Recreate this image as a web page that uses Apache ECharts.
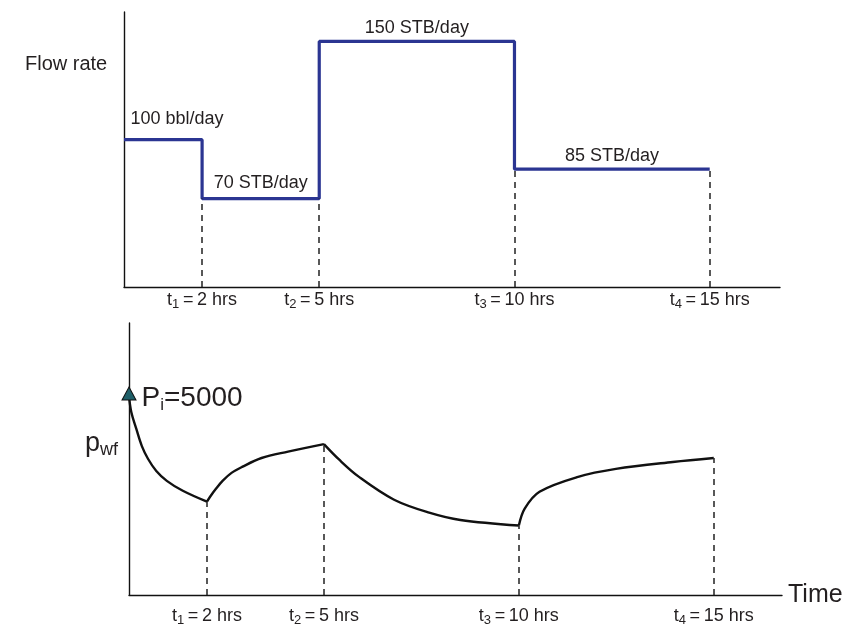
<!DOCTYPE html>
<html>
<head>
<meta charset="utf-8">
<script src="https://cdn.jsdelivr.net/npm/echarts@6/dist/echarts.min.js"></script>
<style>
html,body{margin:0;padding:0;background:#fff;}
#main{width:863px;height:627px;}
</style>
</head>
<body>
<div id="main"></div>
<script>
// ---- data ----
const tickTimes = [2, 5, 10, 15];           // hrs
const tickIndex = ['1', '2', '3', '4'];     // subscript of t
const rateTimes = [0, 2, 5, 10, 15];        // period boundaries, hrs
const rateValues = [100, 70, 150, 85];      // flow rate per period
const rateLabels = ['100 bbl/day', '70 STB/day', '150 STB/day', '85 STB/day'];
const initialPressure = 5000;               // Pi
// pwf curve, one array pair per flow period
const pwfTime1 = [0, 0.06, 0.19, 0.33, 0.49, 0.70, 0.97, 1.38, 2.0];
const pwfValue1 = [5000, 4920, 4835, 4750, 4685, 4625, 4575, 4525, 4470];
const pwfTime2 = [2.0, 2.08, 2.23, 2.4, 2.63, 2.9, 3.4, 4.08, 5.0];
const pwfValue2 = [4470, 4495, 4535, 4575, 4615, 4645, 4690, 4722, 4760];
const pwfTime3 = [5.0, 5.4, 5.9, 6.8, 7.7, 8.5, 10];
const pwfValue3 = [4760, 4680, 4595, 4480, 4415, 4378, 4350];
const pwfTime4 = [10, 10.15, 10.53, 11.52, 12.49, 13.95, 15];
const pwfValue4 = [4350, 4435, 4520, 4595, 4635, 4670, 4690];
const pwfAtTicks = [4470, 4760, 4350, 4690];

// ---- build ----
const FONT = '"Liberation Sans", Arial, Helvetica, sans-serif';
const TXT = '#231f20';
const zip = (a, b) => a.map((v, i) => [v, b[i]]);

const stepData = [];
rateValues.forEach((v, i) => {
  stepData.push([rateTimes[i], v]);
  stepData.push([rateTimes[i + 1], v]);
});
const rateLabelData = rateValues.map((v, i) => ({
  value: [(rateTimes[i] + rateTimes[i + 1]) / 2, v],
  name: rateLabels[i]
}));
rateLabelData[0].label = { offset: [14, -8] };
rateLabelData[1].label = { offset: [0, -3] };

// dashed verticals: up to the lower adjacent rate
const topDash = tickTimes.map((t, i) => {
  const lo = i + 1 < rateValues.length ? Math.min(rateValues[i], rateValues[i + 1]) : rateValues[i];
  return [{ coord: [t, 25] }, { coord: [t, lo] }];
});
const botDash = tickTimes.map((t, i) => [{ coord: [t, 4000] }, { coord: [t, pwfAtTicks[i]] }]);

const subRich = {
  t: { fontSize: 18, lineHeight: 22, color: TXT, fontFamily: FONT },
  s: { fontSize: 13, lineHeight: 12, verticalAlign: 'bottom', color: TXT, fontFamily: FONT },
  e: { fontSize: 18, lineHeight: 22, color: TXT, fontFamily: FONT }
};
const tickFmt = v => {
  const i = tickTimes.indexOf(v);
  return '{t|t}{s|' + tickIndex[i] + '}{e|\u2009=\u2009' + v + ' hrs}';
};

const axisLineStyle = { color: '#111', width: 1.4 };
const dashStyle = { color: '#222', width: 1.5, type: [6, 5] };

const option = {
  animation: false,
  backgroundColor: '#fff',
  title: [
    { text: 'Flow rate', left: 20, top: 49, textStyle: { fontFamily: FONT, fontSize: 20, fontWeight: 'normal', color: TXT } },
    {
      text: '{p|p}{s|wf}', left: 80, top: 424,
      textStyle: {
        fontWeight: 'normal',
        rich: {
          p: { fontSize: 27, lineHeight: 30, color: TXT, fontFamily: FONT, fontWeight: 'normal' },
          s: { fontSize: 18, lineHeight: 16, verticalAlign: 'bottom', color: TXT, fontFamily: FONT, fontWeight: 'normal' }
        }
      }
    }
  ],
  grid: [
    { left: 124, top: 12, right: 83, bottom: 340 },
    { left: 129, top: 323, right: 81, bottom: 30 }
  ],
  xAxis: [
    {
      gridIndex: 0, type: 'value', min: 0, max: 16.8,
      axisLine: { lineStyle: axisLineStyle }, axisTick: { show: false }, splitLine: { show: false },
      axisLabel: { customValues: tickTimes, formatter: tickFmt, margin: 2, rich: subRich }
    },
    {
      gridIndex: 1, type: 'value', min: 0, max: 16.75,
      name: 'Time', nameLocation: 'end', nameGap: 6,
      nameTextStyle: { fontFamily: FONT, fontSize: 25, color: TXT, verticalAlign: 'middle' },
      axisLine: { lineStyle: axisLineStyle }, axisTick: { show: false }, splitLine: { show: false },
      axisLabel: { customValues: tickTimes, formatter: tickFmt, margin: 10, rich: subRich }
    }
  ],
  yAxis: [
    {
      gridIndex: 0, type: 'value', min: 25, max: 165,
      axisLine: { show: true, lineStyle: axisLineStyle }, axisTick: { show: false },
      axisLabel: { show: false }, splitLine: { show: false }
    },
    {
      gridIndex: 1, type: 'value', min: 4000, max: 5370,
      axisLine: { show: true, lineStyle: axisLineStyle }, axisTick: { show: false },
      axisLabel: { show: false }, splitLine: { show: false }
    }
  ],
  series: [
    {
      type: 'line', xAxisIndex: 0, yAxisIndex: 0, data: stepData,
      symbol: 'none', lineStyle: { color: '#2b3592', width: 3.2 },
      markLine: { silent: true, symbol: 'none', label: { show: false }, lineStyle: dashStyle, data: topDash },
      z: 3
    },
    {
      type: 'scatter', xAxisIndex: 0, yAxisIndex: 0, data: rateLabelData,
      symbolSize: 0, silent: true, itemStyle: { opacity: 1 },
      label: {
        show: true, position: 'top', distance: 4, formatter: p => p.name,
        fontFamily: FONT, fontSize: 18, color: TXT
      }
    },
    {
      type: 'line', xAxisIndex: 1, yAxisIndex: 1, data: zip(pwfTime1, pwfValue1),
      smooth: 0.35, symbol: 'none', lineStyle: { color: '#111', width: 2.4 },
      markLine: { silent: true, symbol: 'none', label: { show: false }, lineStyle: dashStyle, data: botDash }
    },
    { type: 'line', xAxisIndex: 1, yAxisIndex: 1, data: zip(pwfTime2, pwfValue2), smooth: 0.35, symbol: 'none', lineStyle: { color: '#111', width: 2.4 } },
    { type: 'line', xAxisIndex: 1, yAxisIndex: 1, data: zip(pwfTime3, pwfValue3), smooth: 0.35, symbol: 'none', lineStyle: { color: '#111', width: 2.4 } },
    { type: 'line', xAxisIndex: 1, yAxisIndex: 1, data: zip(pwfTime4, pwfValue4), smooth: 0.35, symbol: 'none', lineStyle: { color: '#111', width: 2.4 } },
    {
      type: 'scatter', xAxisIndex: 1, yAxisIndex: 1, data: [[0, initialPressure]],
      symbol: 'triangle', symbolSize: [14, 13], symbolOffset: [0, -3],
      itemStyle: { color: '#1f5f68', borderColor: '#111', borderWidth: 1, opacity: 1 },
      label: {
        show: true, position: 'right', distance: 3, offset: [2, 5],
        formatter: () => '{p|P}{s|i}{e|=' + initialPressure + '}',
        rich: {
          p: { fontSize: 28, lineHeight: 30, color: TXT, fontFamily: FONT },
          s: { fontSize: 17, lineHeight: 14, verticalAlign: 'bottom', color: TXT, fontFamily: FONT },
          e: { fontSize: 28, lineHeight: 30, color: TXT, fontFamily: FONT }
        }
      },
      z: 5
    }
  ]
};
echarts.init(document.getElementById('main')).setOption(option);
</script>
</body>
</html>
